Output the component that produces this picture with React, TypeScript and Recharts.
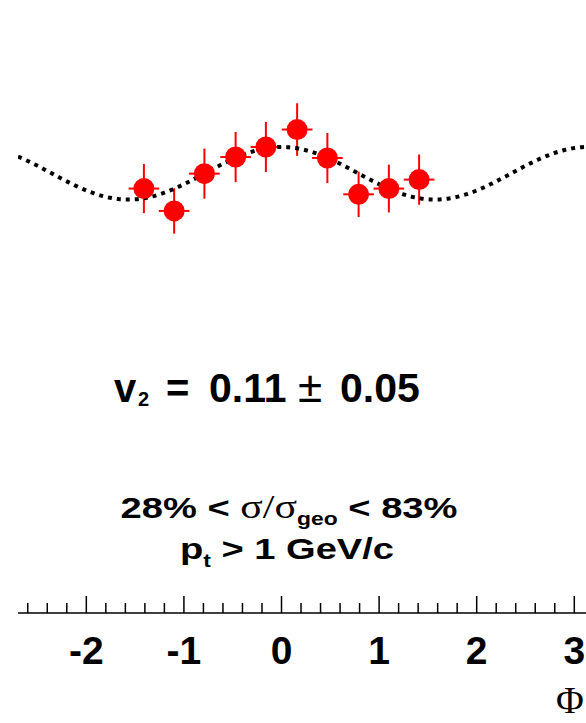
import { ComposedChart, Scatter, Line, XAxis, YAxis, ErrorBar } from "recharts";

// azimuthal distribution, 10 bins over [-pi/2, pi/2]
const PHI = [-1.41, -1.1, -0.79, -0.47, -0.16, 0.16, 0.47, 0.79, 1.1, 1.41];
const YIELD = [0.872, 0.685, 0.997, 1.136, 1.22, 1.366, 1.128, 0.824, 0.872, 0.947];
const YIELD_ERR = [0.205, 0.19, 0.21, 0.21, 0.21, 0.22, 0.21, 0.19, 0.2, 0.21];
const PHI_HALF_BIN = 0.157;

// fit result
const V2 = 0.11;
const V2_ERR = 0.05;

const MAJOR_TICKS = [-2, -1, 0, 1, 2, 3];
const MINOR_TICKS = [
  -2.6, -2.4, -2.2, -1.8, -1.6, -1.4, -1.2, -0.8, -0.6, -0.4, -0.2, 0.2, 0.4,
  0.6, 0.8, 1.2, 1.4, 1.6, 1.8, 2.2, 2.4, 2.6, 2.8,
];
const X_DOMAIN: [number, number] = [-2.7, 3.12];
const Y_DOMAIN: [number, number] = [-2.68, 2.4];

const points = PHI.map((phi, i) => ({
  phi,
  y: YIELD[i],
  ey: YIELD_ERR[i],
  ex: PHI_HALF_BIN,
}));

// fit function 1 + 2 v2 cos(2 phi), sampled across the axis range
const fitCurve: { phi: number; fit: number }[] = [];
for (let phi = X_DOMAIN[0]; phi <= X_DOMAIN[1] + 1e-9; phi += 0.02) {
  fitCurve.push({ phi, fit: 1 + 2 * V2 * Math.cos(2 * phi) });
}

const SANS = "'Liberation Sans', Arial, Helvetica, sans-serif";
const SERIF = "'Liberation Serif', 'Times New Roman', serif";

function PhiTick(props: any) {
  const { x, y, payload } = props;
  const major = MAJOR_TICKS.includes(payload.value);
  return (
    <g>
      <line
        x1={x}
        x2={x}
        y1={y}
        y2={y - (major ? 17 : 10)}
        stroke="#000"
        strokeWidth={1.5}
      />
      {major && (
        <text
          x={x}
          y={y + 51}
          textAnchor="middle"
          fontFamily={SANS}
          fontWeight="bold"
          fontSize={39}
          fill="#000"
        >
          {payload.value}
        </text>
      )}
    </g>
  );
}

const RedDot = (props: any) => (
  <circle cx={props.cx} cy={props.cy} r={10.5} fill="#ff0000" />
);

// the cut labels are set wide, so stretch them about their centre
const wide = (cx: number) =>
  `translate(${cx},0) scale(1.27,1) translate(${-cx},0)`;

export default function App() {
  return (
    <div
      style={{
        position: "absolute",
        left: 0,
        top: 0,
        width: 586,
        height: 723,
        background: "#fff",
      }}
    >
      <ComposedChart
        width={586}
        height={723}
        margin={{ top: 6, right: 0, bottom: 0, left: 18 }}
      >
        <XAxis
          xAxisId="top"
          orientation="top"
          type="number"
          dataKey="phi"
          domain={X_DOMAIN}
          allowDataOverflow
          height={0}
          tick={false}
          tickLine={false}
          axisLine={{ stroke: "#000", strokeWidth: 2 }}
        />
        <XAxis
          type="number"
          dataKey="phi"
          domain={X_DOMAIN}
          allowDataOverflow
          ticks={[...MINOR_TICKS, ...MAJOR_TICKS]}
          interval={0}
          height={110}
          tickSize={0}
          tickMargin={0}
          tickLine={false}
          tick={<PhiTick />}
          axisLine={{ stroke: "#000", strokeWidth: 1.5 }}
        />
        <YAxis type="number" domain={Y_DOMAIN} allowDataOverflow hide />
        <Scatter
          data={points}
          dataKey="y"
          shape={RedDot}
          isAnimationActive={false}
        >
          <ErrorBar
            dataKey="ey"
            direction="y"
            width={0}
            stroke="#ff0000"
            strokeWidth={2}
            isAnimationActive={false}
          />
          <ErrorBar
            dataKey="ex"
            direction="x"
            width={0}
            stroke="#ff0000"
            strokeWidth={2}
            isAnimationActive={false}
          />
        </Scatter>
        <Line
          data={fitCurve}
          dataKey="fit"
          type="linear"
          stroke="#000"
          strokeWidth={4}
          strokeDasharray="4 5"
          dot={false}
          activeDot={false}
          isAnimationActive={false}
        />
      </ComposedChart>

      <svg
        width={586}
        height={723}
        style={{ position: "absolute", left: 0, top: 0, pointerEvents: "none" }}
      >
        <g fontFamily={SANS} fontWeight="bold" fill="#000">
          <text x={114} y={402} fontSize={40}>
            v
          </text>
          <text x={138} y={406} fontSize={20}>
            2
          </text>
          <text x={166} y={402} fontSize={40}>
            =
          </text>
          <text x={209} y={402} fontSize={41}>
            {V2.toFixed(2)}
          </text>
          <text x={298} y={402} fontSize={44} fontWeight="normal">
            ±
          </text>
          <text x={340} y={402} fontSize={41}>
            {V2_ERR.toFixed(2)}
          </text>

          <g transform={wide(289)}>
            <text x={289} y={518} fontSize={30} textAnchor="middle">
              28% &lt;{" "}
              <tspan fontFamily={SERIF} fontWeight="normal" fontSize={33}>
                σ/σ
              </tspan>
              <tspan fontSize={18} dy={7}>
                geo
              </tspan>
              <tspan dy={-7}> &lt; 83%</tspan>
            </text>
          </g>
          <g transform={wide(287)}>
            <text x={287} y={559} fontSize={30} textAnchor="middle">
              p
              <tspan fontSize={18} dy={8}>
                t
              </tspan>
              <tspan dy={-8}> &gt; 1 GeV/c</tspan>
            </text>
          </g>
        </g>
        <text
          x={570}
          y={713}
          textAnchor="middle"
          fontFamily={SERIF}
          fontSize={38}
          fill="#000"
        >
          Φ
        </text>
      </svg>
    </div>
  );
}
